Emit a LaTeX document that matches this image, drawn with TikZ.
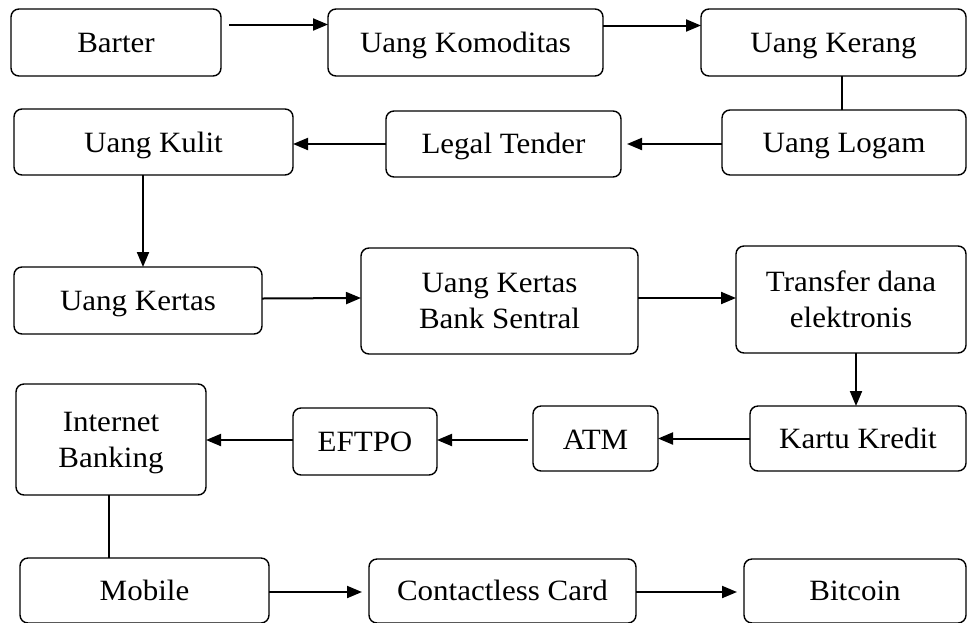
\documentclass[tikz,border=0pt]{standalone}
\usepackage{fontspec}
\setmainfont{Liberation Serif}
\usetikzlibrary{arrows.meta}
\newcommand\sqz[1]{\scalebox{1}[0.95]{#1}}
\begin{document}
\begin{tikzpicture}[x=1pt,y=-1pt,
  box/.style={draw, line width=1.4pt, rounded corners=8pt, inner sep=0pt, outer sep=0pt,
    font=\fontsize{31}{36}\selectfont, align=center, text height=23pt, text depth=3.5pt},
  twobox/.style={box, text height=59pt, text depth=3.5pt},
  arr/.style={line width=2pt, -{Triangle[length=15pt,width=12pt]}},
  ln/.style={line width=2pt}]
\useasboundingbox (0,0) rectangle (968,622);
\fill[white] (0,0) rectangle (968,622);
\node[box, minimum width=210pt, minimum height=67pt] (Barter) at (116,42.5) {\sqz{Barter}};
\node[box, minimum width=275pt, minimum height=67pt] (Komoditas) at (465.5,42.5) {\sqz{Uang Komoditas}};
\node[box, minimum width=265pt, minimum height=67pt] (Kerang) at (833.5,42.5) {\sqz{Uang Kerang}};
\node[box, minimum width=244pt, minimum height=65pt] (Logam) at (844,142.5) {\sqz{Uang Logam}};
\node[box, minimum width=235pt, minimum height=66pt] (Legal) at (503.5,144) {\sqz{Legal Tender}};
\node[box, minimum width=279pt, minimum height=66pt, text height=24pt, text depth=2.5pt] (Kulit) at (153.5,142) {\sqz{Uang Kulit}};
\node[box, minimum width=248pt, minimum height=67pt] (Kertas) at (138,300.5) {\sqz{Uang Kertas}};
\node[twobox, minimum width=277pt, minimum height=106pt] (BankSentral) at (499.5,301) {\sqz{Uang Kertas}\\\sqz{Bank Sentral}};
\node[twobox, minimum width=230pt, minimum height=107pt] (Transfer) at (851,299.5) {\sqz{Transfer dana}\\\sqz{elektronis}};
\node[box, minimum width=216pt, minimum height=65pt] (Kredit) at (858,438.5) {\sqz{Kartu Kredit}};
\node[box, minimum width=125pt, minimum height=65pt, text height=24.5pt, text depth=2pt] (ATM) at (595.5,438.5) {\sqz{ATM}};
\node[box, minimum width=144pt, minimum height=67pt] (EFTPO) at (365,441.5) {\sqz{EFTPO}};
\node[twobox, minimum width=190pt, minimum height=111pt] (IB) at (111,439.5) {\sqz{Internet}\\\sqz{Banking}};
\node[box, minimum width=249pt, minimum height=65pt] (Mobile) at (144.5,590.5) {\sqz{Mobile}};
\node[box, minimum width=267pt, minimum height=64pt] (Contactless) at (502.5,591) {\sqz{Contactless Card}};
\node[box, minimum width=222pt, minimum height=64pt] (Bitcoin) at (855,591) {\sqz{Bitcoin}};
% connectors
\draw[arr] ([xshift=8pt,yshift=18pt]Barter.east) -- ([yshift=18pt]Komoditas.west);
\draw[arr] ([yshift=17pt]Komoditas.east) -- ([yshift=17pt]Kerang.west);
\draw[ln] ([xshift=-2pt]Logam.north) -- ([xshift=-2pt]Logam.north |- Kerang.south);
\draw[arr] (Logam.west |- Legal.east) -- ([xshift=6pt]Legal.east);
\draw[arr] (Legal.west) -- (Legal.west -| Kulit.east);
\draw[arr] ([xshift=-10.5pt]Kulit.south) -- ([xshift=-10.5pt]Kulit.south |- Kertas.north);
\draw[arr] ([yshift=2pt]Kertas.east) -- ([yshift=3pt]BankSentral.west);
\draw[arr] ([yshift=3pt]BankSentral.east) -- ([yshift=1.5pt]Transfer.west);
\draw[arr] ([xshift=5pt]Transfer.south) -- ([xshift=-2pt]Kredit.north);
\draw[arr] (Kredit.west) -- (ATM.east);
\draw[arr, shorten <=5pt] ([yshift=-1.5pt]ATM.west) -- ([yshift=1.5pt]EFTPO.east);
\draw[arr] ([yshift=1.5pt]EFTPO.west) -- ([yshift=-0.5pt]IB.east);
\draw[ln] ([xshift=-2pt]IB.south) -- ([xshift=-2pt]IB.south |- Mobile.north);
\draw[arr, shorten >=7pt] ([yshift=-1.5pt]Mobile.east) -- ([yshift=-1pt]Contactless.west);
\draw[arr, shorten >=7pt] ([yshift=-1pt]Contactless.east) -- ([yshift=-1pt]Bitcoin.west);
\end{tikzpicture}
\end{document}
